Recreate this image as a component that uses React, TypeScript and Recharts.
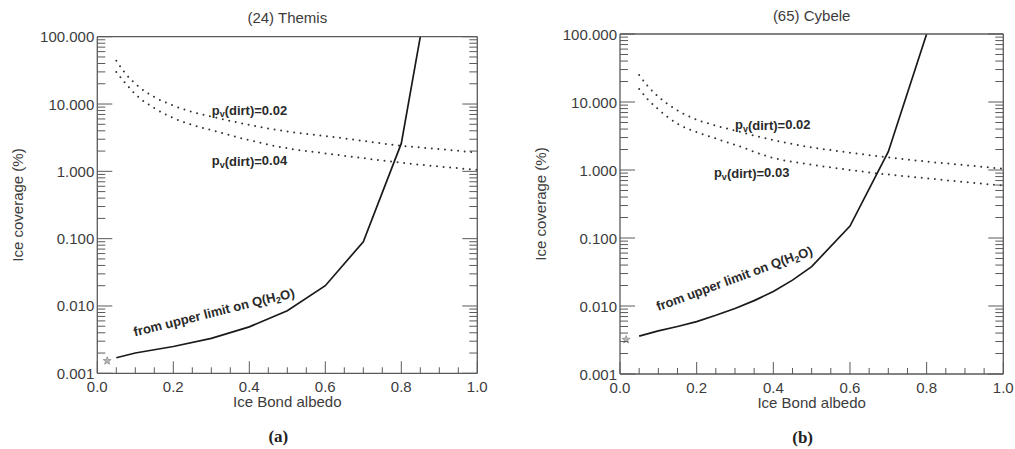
import React from 'react';
import { ComposedChart, Line, XAxis, YAxis, Scatter, ReferenceDot, Label } from 'recharts';

// ---------- data ----------
const dirtAlbedo = [0.05, 0.075, 0.1, 0.15, 0.2, 0.25, 0.3, 0.4, 0.5, 0.6, 0.7, 0.8, 0.9, 1.0];
const themisDirt002 = [44, 28, 20, 12.7, 9.5, 7.6, 6.5, 4.9, 3.9, 3.35, 2.83, 2.4, 2.14, 1.9];
const themisDirt004 = [30, 20, 14, 8.7, 6.2, 4.9, 4.1, 2.9, 2.2, 1.85, 1.57, 1.34, 1.18, 1.05];
const cybeleDirt002 = [25, 16.5, 12, 7.5, 5.5, 4.5, 3.8, 2.75, 2.15, 1.8, 1.53, 1.33, 1.18, 1.04];
const cybeleDirt003 = [15.5, 10.5, 7.8, 4.8, 3.6, 2.9, 2.35, 1.5, 1.2, 1.0, 0.857, 0.755, 0.665, 0.59];

const themisQAlbedo = [0.05, 0.1, 0.2, 0.3, 0.4, 0.5, 0.6, 0.7, 0.8, 0.85];
const themisQ = [0.0017, 0.002, 0.0025, 0.0033, 0.0049, 0.0085, 0.02, 0.09, 2.6, 100];
const cybeleQAlbedo = [0.05, 0.1, 0.15, 0.2, 0.25, 0.3, 0.35, 0.4, 0.45, 0.5, 0.6, 0.7, 0.8];
const cybeleQ = [0.0036, 0.0043, 0.005, 0.0059, 0.0073, 0.0092, 0.012, 0.0163, 0.024, 0.038, 0.15, 1.86, 100];

const themisStar = [{ x: 0.026, y: 0.00153 }];
const cybeleStar = [{ x: 0.016, y: 0.0032 }];

const xTicks = [0, 0.05, 0.1, 0.15, 0.2, 0.25, 0.3, 0.35, 0.4, 0.45, 0.5, 0.55, 0.6, 0.65, 0.7, 0.75, 0.8, 0.85, 0.9, 0.95, 1.0];
const yDecades = [0.001, 0.01, 0.1, 1, 10, 100];
const yMinorMultipliers = [2, 3, 4, 5, 6, 7, 8, 9];
const yTicks: number[] = [];
yDecades.forEach((d, i) => {
  yTicks.push(d);
  if (i < yDecades.length - 1) yMinorMultipliers.forEach((m) => yTicks.push(+(d * m).toPrecision(3)));
});

// ---------- style ----------
const AXIS = '#5a5a5a';
const TXT = '#3c3c3c';
const SANS = '"Liberation Sans", Arial, Helvetica, sans-serif';

const toRows = (xs: number[], ys: number[]) => xs.map((x, i) => ({ x, y: ys[i] }));

const isMajorY = (v: number) => Math.abs(Math.log10(v) - Math.round(Math.log10(v))) < 1e-6;
const isMajorX = (v: number) => Math.abs(v * 5 - Math.round(v * 5)) < 1e-6;

const YTickLeft = (p: any) => {
  const v = p.payload.value;
  const major = isMajorY(v);
  return (
    <g>
      <line x1={p.x} x2={p.x + (major ? 15 : 8)} y1={p.y} y2={p.y} stroke={AXIS} strokeWidth={1} />
      {major && (
        <text x={p.x - 3} y={p.y} textAnchor="end" dominantBaseline="central" fontFamily={SANS} fontSize={15} fill={TXT}>
          {v.toFixed(3)}
        </text>
      )}
    </g>
  );
};
const YTickRight = (p: any) => {
  const v = p.payload.value;
  const major = isMajorY(v);
  return <line x1={p.x} x2={p.x - (major ? 15 : 8)} y1={p.y} y2={p.y} stroke={AXIS} strokeWidth={1} />;
};
const XTickBottom = (p: any) => {
  const v = p.payload.value;
  const major = isMajorX(v);
  return (
    <g>
      <line x1={p.x} x2={p.x} y1={p.y} y2={p.y - (major ? 12 : 6)} stroke={AXIS} strokeWidth={1} />
      {major && (
        <text x={p.x} y={p.y + 13} textAnchor="middle" dominantBaseline="central" fontFamily={SANS} fontSize={15} fill={TXT}>
          {v.toFixed(1)}
        </text>
      )}
    </g>
  );
};
const XTickTop = (p: any) => {
  const v = p.payload.value;
  const major = isMajorX(v);
  return <line x1={p.x} x2={p.x} y1={p.y} y2={p.y + (major ? 12 : 6)} stroke={AXIS} strokeWidth={1} />;
};

const StarShape = (p: any) => {
  const { cx, cy } = p;
  const pts: string[] = [];
  for (let i = 0; i < 10; i++) {
    const r = i % 2 === 0 ? 4.2 : 1.8;
    const a = -Math.PI / 2 + (i * Math.PI) / 5;
    pts.push(`${cx + r * Math.cos(a)},${cy + r * Math.sin(a)}`);
  }
  return <polygon points={pts.join(' ')} fill="#b5b5b5" stroke="#8a8a8a" strokeWidth={0.7} />;
};

const PvLabel = (sub: string, value: string) => (p: any) => (
  <text x={p.cx} y={p.cy} textAnchor="start" dominantBaseline="central" fontFamily={SANS} fontSize={13} fontWeight="bold" fill="#2a2a2a">
    p<tspan fontSize={9} dy={4}>{sub}</tspan>
    <tspan dy={-4}>(dirt)=</tspan>
    {value}
  </text>
);

const QLabel = (angle: number) => (p: any) => (
  <text
    x={p.cx}
    y={p.cy}
    textAnchor="middle"
    dominantBaseline="central"
    transform={`rotate(${angle} ${p.cx} ${p.cy})`}
    fontFamily={SANS}
    fontSize={13}
    fontWeight="bold"
    fill="#2a2a2a"
  >
    from upper limit on Q(H<tspan fontSize={9} dy={4}>2</tspan>
    <tspan dy={-4}>O)</tspan>
  </text>
);

type PanelProps = {
  left: number;
  width: number;
  margin: { top: number; right: number; bottom: number; left: number };
  title: string;
  letter: string;
  upper: number[];
  lower: number[];
  qAlbedo: number[];
  q: number[];
  star: { x: number; y: number }[];
  upperLabel: { x: number; y: number; text: string };
  lowerLabel: { x: number; y: number; text: string };
  qLabel: { x: number; y: number; angle: number };
};

const LEFT_AXIS_W = 80;
const BOTTOM_AXIS_H = 30;
const SIDE_AXIS = 1;

const Panel = (props: PanelProps) => {
  const m = props.margin;
  const margin = {
    top: m.top - SIDE_AXIS,
    right: m.right - SIDE_AXIS,
    bottom: m.bottom - BOTTOM_AXIS_H,
    left: m.left - LEFT_AXIS_W,
  };
  return (
    <div style={{ position: 'absolute', left: props.left, top: 0 }}>
      <ComposedChart width={props.width} height={449} margin={margin}>
        <XAxis
          xAxisId="b"
          dataKey="x"
          type="number"
          domain={[0, 1]}
          ticks={xTicks}
          interval={0}
          height={BOTTOM_AXIS_H}
          tickSize={0}
          tickMargin={0}
          tickLine={false}
          tick={<XTickBottom />}
          axisLine={{ stroke: AXIS, strokeWidth: 1.3 }}
          allowDataOverflow
        >
          <Label
            content={(p: any) => (
              <g>
                <text x={p.viewBox.x + p.viewBox.width / 2} y={p.viewBox.y + 28.5} textAnchor="middle" dominantBaseline="central" fontFamily={SANS} fontSize={15} fill={TXT}>
                  Ice Bond albedo
                </text>
                <text x={p.viewBox.x + p.viewBox.width / 2 - 9} y={p.viewBox.y + 63.5} textAnchor="middle" dominantBaseline="central" fontFamily='"Liberation Serif", "Times New Roman", serif' fontSize={17} fontWeight="bold" fill="#222">
                  {props.letter}
                </text>
              </g>
            )}
          />
        </XAxis>
        <XAxis
          xAxisId="t"
          orientation="top"
          type="number"
          domain={[0, 1]}
          ticks={xTicks}
          interval={0}
          height={SIDE_AXIS}
          tickSize={0}
          tickMargin={0}
          tickLine={false}
          tick={<XTickTop />}
          axisLine={{ stroke: AXIS, strokeWidth: 1.3 }}
        >
          <Label
            content={(p: any) => (
              <text x={p.viewBox.x + p.viewBox.width / 2} y={p.viewBox.y + p.viewBox.height - 19} textAnchor="middle" dominantBaseline="central" fontFamily={SANS} fontSize={15} fill={TXT}>
                {props.title}
              </text>
            )}
          />
        </XAxis>
        <YAxis
          yAxisId="l"
          scale="log"
          type="number"
          domain={[0.001, 100]}
          allowDataOverflow
          ticks={yTicks}
          interval={0}
          width={LEFT_AXIS_W}
          tickSize={0}
          tickMargin={0}
          tickLine={false}
          tick={<YTickLeft />}
          axisLine={{ stroke: AXIS, strokeWidth: 1.3 }}
        >
          <Label
            content={(p: any) => {
              const cx = p.viewBox.x + p.viewBox.width - 79.5;
              const cy = p.viewBox.y + p.viewBox.height / 2;
              return (
                <text x={cx} y={cy} transform={`rotate(-90 ${cx} ${cy})`} textAnchor="middle" dominantBaseline="central" fontFamily={SANS} fontSize={15} fill={TXT}>
                  Ice coverage (%)
                </text>
              );
            }}
          />
        </YAxis>
        <YAxis
          yAxisId="r"
          orientation="right"
          scale="log"
          type="number"
          domain={[0.001, 100]}
          allowDataOverflow
          ticks={yTicks}
          interval={0}
          width={SIDE_AXIS}
          tickSize={0}
          tickMargin={0}
          tickLine={false}
          tick={<YTickRight />}
          axisLine={{ stroke: AXIS, strokeWidth: 1.3 }}
        />
        <Line
          xAxisId="b"
          yAxisId="l"
          data={toRows(dirtAlbedo, props.upper)}
          dataKey="y"
          type="monotone"
          dot={false}
          stroke="#333"
          strokeWidth={2}
          strokeDasharray="0 6.6"
          strokeLinecap="round"
          isAnimationActive={false}
        />
        <Line
          xAxisId="b"
          yAxisId="l"
          data={toRows(dirtAlbedo, props.lower)}
          dataKey="y"
          type="monotone"
          dot={false}
          stroke="#333"
          strokeWidth={2}
          strokeDasharray="0 6.6"
          strokeLinecap="round"
          isAnimationActive={false}
        />
        <Line
          xAxisId="b"
          yAxisId="l"
          data={toRows(props.qAlbedo, props.q)}
          dataKey="y"
          type="linear"
          dot={false}
          stroke="#1a1a1a"
          strokeWidth={1.7}
          isAnimationActive={false}
        />
        <Scatter xAxisId="b" yAxisId="l" data={props.star} dataKey="y" shape={<StarShape />} isAnimationActive={false} />
        <ReferenceDot xAxisId="b" yAxisId="l" x={props.upperLabel.x} y={props.upperLabel.y} r={0} ifOverflow="visible" shape={PvLabel('v', props.upperLabel.text)} />
        <ReferenceDot xAxisId="b" yAxisId="l" x={props.lowerLabel.x} y={props.lowerLabel.y} r={0} ifOverflow="visible" shape={PvLabel('v', props.lowerLabel.text)} />
        <ReferenceDot xAxisId="b" yAxisId="l" x={props.qLabel.x} y={props.qLabel.y} r={0} ifOverflow="visible" shape={QLabel(props.qLabel.angle)} />
      </ComposedChart>
    </div>
  );
};

export default function App() {
  return (
    <div style={{ position: 'absolute', left: 0, top: 0, width: 1015, height: 449, background: '#fff', overflow: 'hidden' }}>
      <Panel
        left={0}
        width={500}
        margin={{ top: 36.7, right: 22.7, bottom: 75.7, left: 97.3 }}
        title="(24) Themis"
        letter="(a)"
        upper={themisDirt002}
        lower={themisDirt004}
        qAlbedo={themisQAlbedo}
        q={themisQ}
        star={themisStar}
        upperLabel={{ x: 0.301, y: 8.15, text: '0.02' }}
        lowerLabel={{ x: 0.301, y: 1.44, text: '0.04' }}
        qLabel={{ x: 0.307, y: 0.0081, angle: -14 }}
      />
      <Panel
        left={510}
        width={505}
        margin={{ top: 34, right: 11.7, bottom: 75, left: 110 }}
        title="(65) Cybele"
        letter="(b)"
        upper={cybeleDirt002}
        lower={cybeleDirt003}
        qAlbedo={cybeleQAlbedo}
        q={cybeleQ}
        star={cybeleStar}
        upperLabel={{ x: 0.3, y: 4.59, text: '0.02' }}
        lowerLabel={{ x: 0.245, y: 0.912, text: '0.03' }}
        qLabel={{ x: 0.298, y: 0.0255, angle: -20.2 }}
      />
    </div>
  );
}
